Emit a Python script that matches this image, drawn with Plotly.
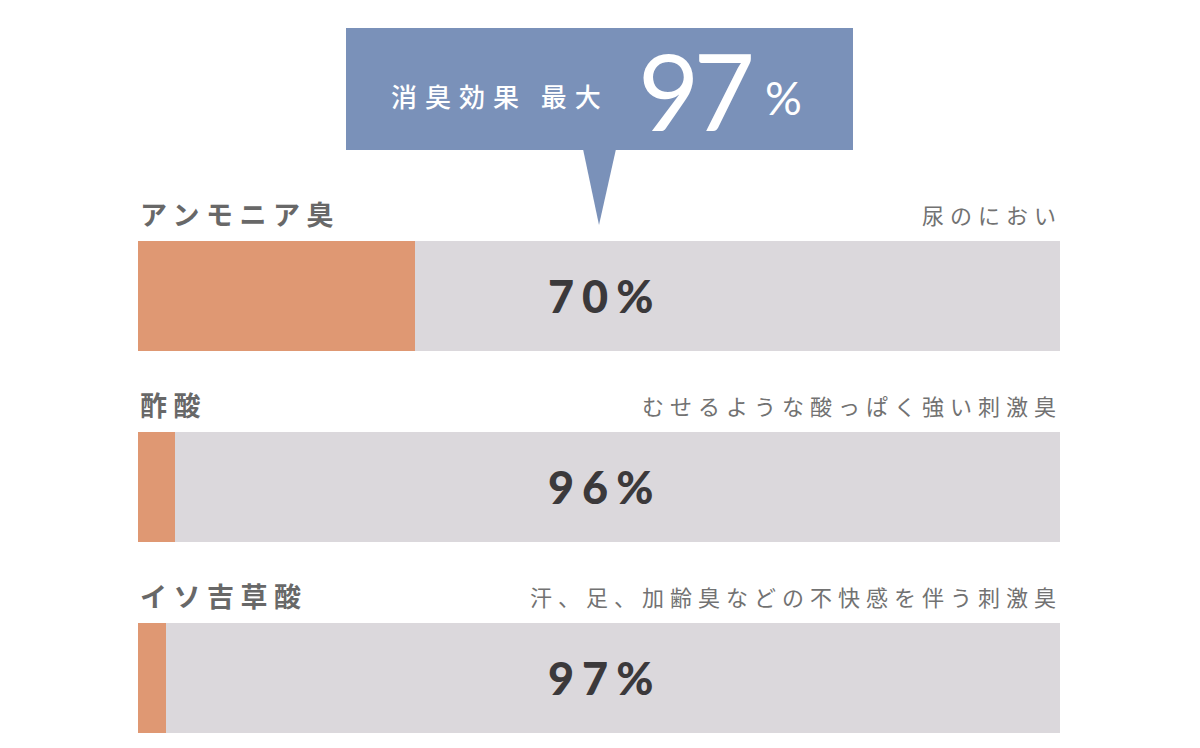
import plotly.graph_objects as go

categories = ["アンモニア臭", "酢酸", "イソ吉草酸"]
descriptions = ["尿のにおい", "むせるような酸っぱく強い刺激臭", "汗、足、加齢臭などの不快感を伴う刺激臭"]
reduction = [70, 96, 97]
remaining = [100 - v for v in reduction]
headline_label = "消臭効果 最大"
headline_value = max(reduction)

W, H = 1200, 748
OFF = 8  # page offset of the figure
L, R = 138 - OFF, 140 + OFF
PW = W - L - R

def px(x):
    return (x - OFF - L) / PW

def py(y):
    return 1 - (y - OFF) / H

ORANGE = "#DF9873"
GREY = "#DBD8DC"
BLUE = "#7A91B9"

fig = go.Figure()
fig.add_trace(go.Bar(y=categories, x=remaining, orientation="h", marker=dict(color=ORANGE, line=dict(width=0)),
                     width=0.576, hoverinfo="skip", showlegend=False))
fig.add_trace(go.Bar(y=categories, x=reduction, orientation="h", marker=dict(color=GREY, line=dict(width=0)),
                     width=0.576, hoverinfo="skip", showlegend=False))

ann = []
label_off = -0.43
for i, (c, d, v) in enumerate(zip(categories, descriptions, reduction)):
    ann.append(dict(x=0, y=i + label_off, xref="x", yref="y", xanchor="left", yanchor="middle",
                    text=f'<span style="letter-spacing:6.5px">{c}</span>', showarrow=False,
                    font=dict(family="Noto Sans CJK JP", size=27, color="#686868", weight="bold")))
    ann.append(dict(x=px(1064), y=i + label_off, xref="paper", yref="y", xanchor="right", yanchor="middle",
                    text=f'<span style="letter-spacing:6px">{d}</span>', showarrow=False,
                    font=dict(family="Noto Sans CJK JP", size=22, color="#727272", weight=400)))
    ann.append(dict(x=50.63, y=i, xref="x", yref="y", xanchor="center", yanchor="middle",
                    text=f'<span style="letter-spacing:8px">{v}%</span>', showarrow=False,
                    font=dict(family="Lato", size=45, color="#3b393b", weight=900)))

ann.append(dict(x=px(500), y=py(95), xref="paper", yref="paper", xanchor="center", yanchor="middle",
                text=f'<span style="letter-spacing:8px">{headline_label}</span>', showarrow=False,
                font=dict(family="Noto Sans CJK JP", size=26, color="white", weight=500)))
ann.append(dict(x=px(694), y=py(90), xref="paper", yref="paper", xanchor="center", yanchor="middle",
                text=f'<span style="letter-spacing:-6px">{headline_value}</span>', showarrow=False,
                font=dict(family="Lato", size=106, color="white", weight=400)))
ann.append(dict(x=px(783), y=py(97), xref="paper", yref="paper", xanchor="center", yanchor="middle",
                text="%", showarrow=False,
                font=dict(family="Lato", size=46, color="white", weight=400)))

shapes = [
    dict(type="rect", xref="paper", yref="paper", x0=px(346), x1=px(853), y0=py(150), y1=py(28),
         fillcolor=BLUE, line=dict(width=0), layer="above"),
    dict(type="path", xref="paper", yref="paper",
         path=f"M {px(583)},{py(149)} L {px(616)},{py(149)} L {px(599)},{py(225)} Z",
         fillcolor=BLUE, line=dict(width=0), layer="above"),
]

fig.update_layout(
    width=W, height=H, barmode="stack", bargap=0,
    margin=dict(l=L, r=R, t=0, b=0),
    paper_bgcolor="white", plot_bgcolor="white",
    xaxis=dict(range=[0, 100], visible=False, fixedrange=True),
    yaxis=dict(type="category", categoryarray=categories, range=[2.408, -1.508], visible=False, fixedrange=True),
    annotations=ann, shapes=shapes,
)

fig.write_html("out.html")
